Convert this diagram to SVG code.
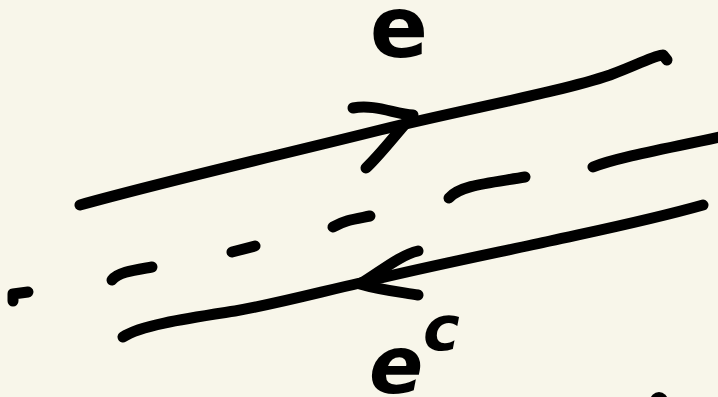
<svg xmlns="http://www.w3.org/2000/svg" width="718" height="397" viewBox="0 0 718 397">
<style>
.s{fill:none;stroke:#000;stroke-width:11;stroke-linecap:round;stroke-linejoin:round}
.t{font-family:"DejaVu Sans",sans-serif;font-weight:bold;font-style:italic;fill:#000}
</style>
<rect width="718" height="397" fill="#f8f6ea"/>
<g id="top-edge">
<path class="s" d="M80,205 C170,180 280,155 380,130 C470,108 560,92 610,75 C640,64 655,55 663,55 L667,60"/>
<path class="s" d="M353,108 C375,104 395,114 413,115 C395,135 380,155 366,168"/>
</g>
<g id="dashes">
<path class="s" d="M13,301 L13,294 L28,292"/>
<path class="s" d="M112,280 C118,272 135,270 152,267"/>
<path class="s" d="M232,252 L255,246"/>
<path class="s" d="M333,227 C345,220 355,219 370,216"/>
<path class="s" d="M449,198 C460,185 490,183 525,177"/>
<path class="s" d="M593,167 C615,158 660,150 720,137"/>
</g>
<g id="bottom-edge">
<path class="s" d="M123,337 C140,325 190,318 235,311 C280,303 320,292 360,283 C420,268 500,252 550,241 C600,230 650,220 703,205"/>
<path class="s" d="M418,251 C400,255 380,272 360,284 C380,290 400,292 418,295"/>
<circle cx="659" cy="401" r="9" fill="#000"/>
</g>
<g id="labels">
<text class="t" x="399" y="57" font-size="86" text-anchor="middle" style="font-style:normal">e</text>
<text class="t" x="369" y="393" font-size="80">e</text>
<text class="t" x="423" y="350" font-size="62">c</text>
</g>
</svg>
